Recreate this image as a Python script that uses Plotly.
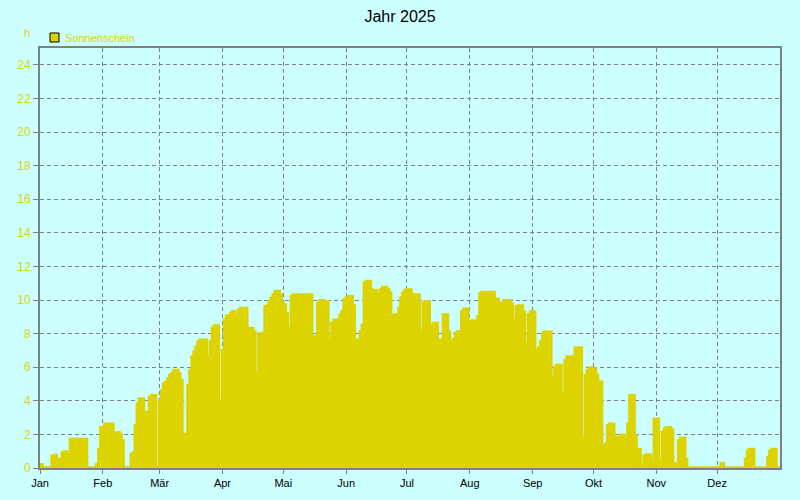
import plotly.graph_objects as go

# ---- data: daily sunshine hours 2025 ----
months = ["Jan", "Feb", "Mär", "Apr", "Mai", "Jun", "Jul", "Aug", "Sep", "Okt", "Nov", "Dez"]
month_start = [0, 31, 59, 90, 120, 151, 181, 212, 243, 273, 304, 334]
y_ticks = list(range(0, 25, 2))

jan = [0.2, 0, 0, 0, 0, 0, 0.7, 0.75, 0.5, 0, 0.5, 0.9, 0.95, 0.8, 0.6,
       1.7, 1.7, 1.7, 1.7, 1.7, 1.7, 1.7, 1.7, 0, 0, 0, 0, 0, 0.2, 1.1, 2.4]
feb = [2.4, 2.6, 2.6, 2.6, 2.6, 0.4, 2.0, 2.1, 2.0, 1.6, 0, 0, 0, 0, 0.8, 0.9,
       2.5, 3.8, 4.1, 4.1, 3.2, 3.3, 3.3, 4.2, 4.3, 4.3, 0, 0]
mar = [4.0, 4.6, 5.0, 5.1, 5.3, 5.5, 5.6, 5.8, 5.8, 5.6, 5.2, 2.0, 2.0, 2.0, 4.9, 5.8,
       6.6, 6.9, 7.2, 7.5, 7.6, 7.6, 7.6, 6.6, 6.3, 7.5, 8.3, 8.45, 8.45, 2.3, 4.0]
apr = [7.0, 8.8, 9.05, 9.05, 9.2, 9.3, 9.0, 8.1, 9.4, 9.5, 9.5, 9.5, 8.1, 8.3, 8.3,
       8.1, 5.7, 1.9, 7.9, 8.0, 8.0, 9.6, 9.65, 9.9, 10.1, 10.3, 10.5, 10.5, 10.3, 9.8]
mai = [9.7, 9.2, 8.3, 8.3, 10.2, 10.3, 10.3, 10.3, 10.3, 10.3, 10.3, 10.3, 10.3, 10.3,
       7.8, 7.8, 7.3, 9.8, 9.95, 9.95, 9.9, 9.9, 7.65, 7.65, 8.6, 8.8, 8.8, 8.1, 9.1, 9.3, 10.0]
jun = [10.1, 10.2, 10.2, 9.65, 7.6, 7.6, 7.3, 8.1, 8.5, 11.0, 11.1, 11.1, 10.6, 10.55, 10.55,
       9.9, 10.3, 10.6, 10.75, 10.75, 10.6, 10.4, 9.0, 9.05, 9.1, 9.1, 9.5, 10.1, 10.4, 10.55]
jul = [10.6, 10.6, 9.7, 10.3, 10.3, 10.3, 8.0, 8.1, 9.8, 9.9, 9.9, 8.1, 8.45, 8.6, 8.6,
       7.5, 7.6, 7.6, 9.1, 9.1, 8.1, 7.1, 7.5, 7.65, 8.0, 8.1, 8.1, 9.3, 9.45, 9.45, 7.6]
aug = [8.6, 8.75, 8.75, 5.5, 9.0, 10.35, 10.45, 10.45, 10.3, 10.45, 10.45, 10.45, 10.05, 10.05,
       9.8, 6.9, 9.75, 9.95, 9.95, 9.95, 9.75, 8.8, 8.35, 9.6, 9.65, 9.65, 9.25, 7.4, 5.45, 9.1, 9.3]
sep = [9.25, 5.6, 7.0, 7.15, 7.5, 8.0, 8.08, 8.08, 8.08, 5.2, 5.35, 6.0, 6.1, 6.1, 4.45,
       3.0, 6.4, 6.6, 6.6, 6.6, 5.9, 7.15, 7.15, 7.15, 1.8, 0.5, 5.5, 5.8, 5.95, 5.9]
okt = [5.9, 5.5, 5.1, 5.1, 0.9, 1.3, 1.4, 2.5, 2.6, 2.6, 1.8, 0.3, 1.8, 1.95, 1.95, 1.7,
       0.7, 2.6, 4.3, 4.3, 1.9, 1.1, 1.1, 0.1, 0.1, 0.7, 0.77, 0.77, 0.3, 0.42, 2.9]
nov = [2.9, 0, 0.4, 2.1, 2.3, 2.4, 2.4, 2.26, 0, 0.25, 0, 1.6, 1.77, 1.77, 0.5,
       0, 0, 0, 0, 0, 0, 0, 0, 0, 0, 0, 0, 0, 0, 0]
dez = [0, 0, 0.25, 0, 0, 0, 0, 0, 0, 0, 0, 0, 0, 0, 0.5, 1.0, 1.1, 1.1,
       0, 0, 0, 0, 0, 0, 0, 0.6, 1.0, 1.1, 1.1, 0, 0]

sunshine = jan + feb + mar + apr + mai + jun + jul + aug + sep + okt + nov + dez
# each day's value spans [d, d+1) -> step line; repeat last value at year end
days = list(range(len(sunshine))) + [len(sunshine)]
values = sunshine + [sunshine[-1]]

YELLOW = "#DDD300"
BG = "#CCFFFF"
GRID = "#808080"
FONT = "Liberation Sans, Arial, sans-serif"

fig = go.Figure()
fig.add_trace(go.Scatter(
    x=days, y=values, mode="lines",
    line=dict(color=YELLOW, width=3.5, shape="hv"),
    fill="tozeroy", fillcolor=YELLOW,
    name="Sonnenschein", showlegend=False,
))

axis_common = dict(
    showgrid=True, gridcolor=GRID, gridwidth=1, griddash="4px,3px",
    showline=True, linecolor=GRID, linewidth=2, mirror=True,
    ticks="outside", tickcolor=GRID, zeroline=False,
)

fig.update_layout(
    width=800, height=500,
    margin=dict(l=40, r=20, t=48, b=32),
    paper_bgcolor=BG, plot_bgcolor=BG,
    font=dict(family=FONT, size=11, color="black"),
    title=dict(text="Jahr 2025", x=0.5, xref="container", xanchor="center",
               y=1 - 16 / 500, yref="container", yanchor="middle",
               font=dict(size=16, color="black", family=FONT)),
    xaxis=dict(range=[0, 365], tickmode="array", tickvals=month_start, ticktext=months,
               ticklen=4, tickfont=dict(size=11, color="black"), **axis_common),
    yaxis=dict(range=[0, 25], tickmode="array", tickvals=y_ticks,
               ticklen=5, tickfont=dict(size=12, color=YELLOW), **axis_common),
    showlegend=False,
    shapes=[
        # legend key for "Sonnenschein"
        dict(type="rect", xref="paper", yref="paper",
             x0=(50 - 40) / 740, x1=(59 - 40) / 740,
             y0=(468 - 42) / 420, y1=(468 - 33) / 420,
             fillcolor=YELLOW, line=dict(color="black", width=1)),
    ],
    annotations=[
        dict(text="h", x=-0.0176, y=1.0357, xref="paper", yref="paper",
             showarrow=False, xanchor="center", yanchor="middle",
             font=dict(size=11, color=YELLOW, family=FONT)),
        dict(text="Sonnenschein", x=(63 - 40) / 740, y=(468 - 37.5) / 420,
             xref="paper", yref="paper", showarrow=False,
             xanchor="left", yanchor="middle",
             font=dict(size=11, color=YELLOW, family=FONT)),
    ],
)

fig.write_html("out.html", config={"displayModeBar": False},
               post_script="document.body.style.margin='0';")
